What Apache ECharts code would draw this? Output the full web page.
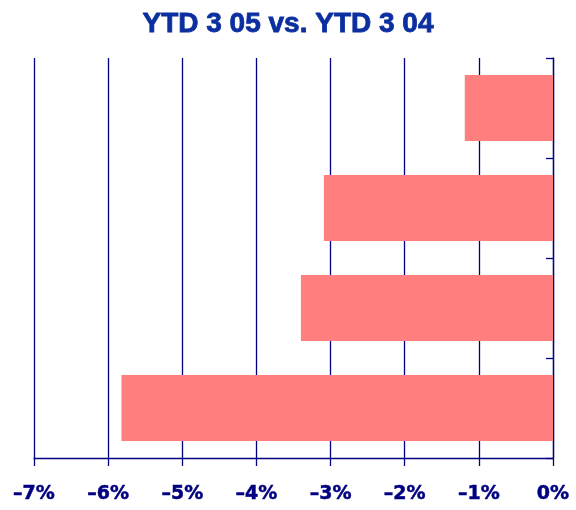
<!DOCTYPE html>
<html>
<head>
<meta charset="utf-8">
<script src="https://cdn.jsdelivr.net/npm/echarts@6/dist/echarts.min.js"></script>
<style>
  html, body { margin: 0; padding: 0; background: #ffffff; }
  #chart { width: 576px; height: 510px; }
</style>
</head>
<body>
<div id="chart"></div>
<script>
// Year-to-date change, top row first
const categories = ['A', 'B', 'C', 'D'];
const changePct = [-1.19, -3.09, -3.40, -5.82];
const tickValues = [-7, -6, -5, -4, -3, -2, -1, 0];

const navy = '#000080';
const chart = echarts.init(document.getElementById('chart'));

chart.setOption({
  animation: false,
  backgroundColor: '#ffffff',
  title: {
    text: 'YTD 3 05 vs. YTD 3 04',
    left: 'center',
    top: 5,
    textStyle: {
      fontFamily: '"Liberation Sans", Arial, sans-serif',
      fontWeight: 'bold',
      fontSize: 28,
      color: '#0b2f9f',
      textBorderColor: '#0b2f9f',
      textBorderWidth: 0.8
    }
  },
  grid: { left: 34, right: 23, top: 58, bottom: 52 },
  xAxis: {
    type: 'value',
    min: tickValues[0],
    max: tickValues[tickValues.length - 1],
    interval: 1,
    axisLine: { show: true, lineStyle: { color: navy, width: 1.3 } },
    axisTick: { show: true, length: 8, lineStyle: { color: navy, width: 1.3 } },
    splitLine: { show: true, lineStyle: { color: navy, width: 1.3 } },
    axisLabel: {
      margin: 27,
      color: navy,
      fontFamily: '"DejaVu Sans", sans-serif',
      fontWeight: 'bold',
      fontSize: 19,
      textBorderColor: navy,
      textBorderWidth: 0.5,
      // negative values use an en dash as the minus sign
      formatter: v => (v < 0 ? '\u2013' + Math.abs(v) : String(v)) + '%'
    }
  },
  yAxis: {
    type: 'category',
    data: categories,
    inverse: true,
    position: 'right',
    axisLine: { show: true, lineStyle: { color: navy, width: 1.3 } },
    axisTick: { show: true, inside: true, length: 7, lineStyle: { color: navy, width: 1.3 } },
    axisLabel: { show: false },
    splitLine: { show: false }
  },
  series: [{
    type: 'bar',
    data: changePct,
    barCategoryGap: '34%',
    itemStyle: { color: '#ff7f7f' },
    z: 3
  }]
});
</script>
</body>
</html>
